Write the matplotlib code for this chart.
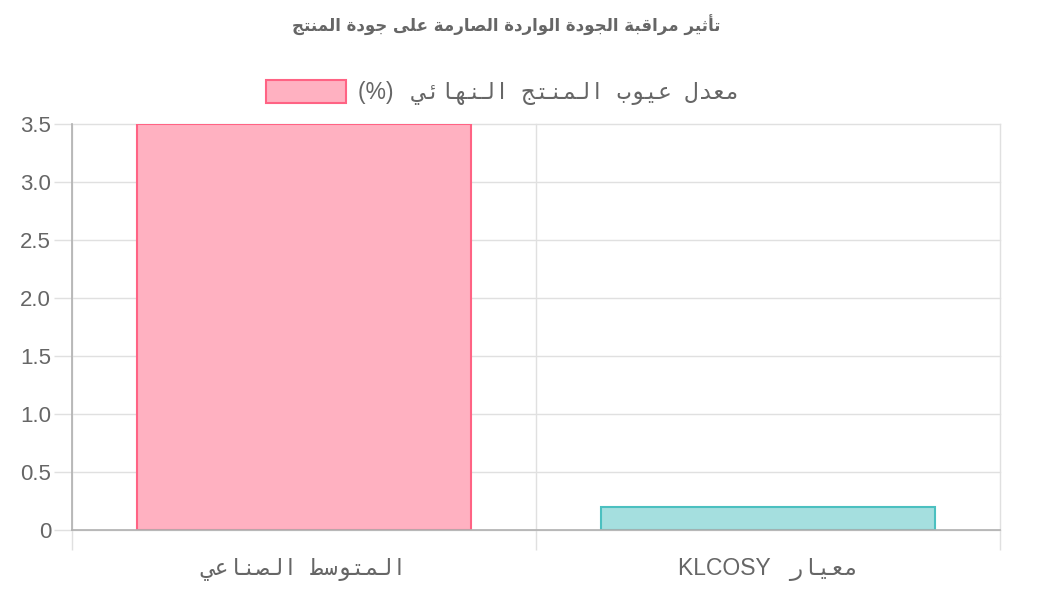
import matplotlib
matplotlib.use("Agg")
import matplotlib.pyplot as plt
from matplotlib.patches import Rectangle

# chart data
title_ar = "تأثير مراقبة الجودة الواردة الصارمة على جودة المنتج"
series_label = "معدل عيوب المنتج النهائي"
categories = ["المتوسط الصناعي", "معيار"]
category_suffix = ["", "KLCOSY"]
defect_rate = [3.5, 0.2]
fill_colors = ["#ffb1c1", "#a5dfdf"]
edge_colors = ["#ff6384", "#4bc0c0"]
y_ticks = [0, 0.5, 1.0, 1.5, 2.0, 2.5, 3.0, 3.5]
y_tick_labels = ["0", "0.5", "1.0", "1.5", "2.0", "2.5", "3.0", "3.5"]

# arabic presentation forms: iso, fin, ini, med (None = right-joining only)
FORMS = {
    "ا": (0xFE8D, 0xFE8E, None, None),
    "أ": (0xFE83, 0xFE84, None, None),
    "ب": (0xFE8F, 0xFE90, 0xFE91, 0xFE92),
    "ة": (0xFE93, 0xFE94, None, None),
    "ت": (0xFE95, 0xFE96, 0xFE97, 0xFE98),
    "ث": (0xFE99, 0xFE9A, 0xFE9B, 0xFE9C),
    "ج": (0xFE9D, 0xFE9E, 0xFE9F, 0xFEA0),
    "د": (0xFEA9, 0xFEAA, None, None),
    "ر": (0xFEAD, 0xFEAE, None, None),
    "س": (0xFEB1, 0xFEB2, 0xFEB3, 0xFEB4),
    "ص": (0xFEB9, 0xFEBA, 0xFEBB, 0xFEBC),
    "ط": (0xFEC1, 0xFEC2, 0xFEC3, 0xFEC4),
    "ع": (0xFEC9, 0xFECA, 0xFECB, 0xFECC),
    "ق": (0xFED5, 0xFED6, 0xFED7, 0xFED8),
    "ل": (0xFEDD, 0xFEDE, 0xFEDF, 0xFEE0),
    "م": (0xFEE1, 0xFEE2, 0xFEE3, 0xFEE4),
    "ن": (0xFEE5, 0xFEE6, 0xFEE7, 0xFEE8),
    "ه": (0xFEE9, 0xFEEA, 0xFEEB, 0xFEEC),
    "و": (0xFEED, 0xFEEE, None, None),
    "ى": (0xFEEF, 0xFEF0, None, None),
    "ي": (0xFEF1, 0xFEF2, 0xFEF3, 0xFEF4),
    "ئ": (0xFE89, 0xFE8A, 0xFE8B, 0xFE8C),
}


def shape(text, gap=" "):
    # join letters and put them in visual (left-to-right) order
    out = []
    for i, c in enumerate(text):
        if c not in FORMS:
            out.append(gap if c == " " else c)
            continue
        prev = text[i - 1] if i > 0 else None
        nxt = text[i + 1] if i + 1 < len(text) else None
        jp = prev in FORMS and FORMS[prev][2] is not None
        jn = nxt in FORMS and FORMS[c][2] is not None
        iso, fin, ini, med = FORMS[c]
        if jp and jn:
            code = med
        elif jp:
            code = fin
        elif jn:
            code = ini
        else:
            code = iso
        out.append(chr(code))
    return "".join(out)[::-1]


grey = "#666666"
grid_c = "#e0e0e0"
mixed = ["Liberation Sans", "DejaVu Sans Mono", "DejaVu Sans"]

fig = plt.figure(figsize=(10.49, 6.01), dpi=100)
ax = fig.add_axes([72 / 1049, 1 - 530 / 601, 928 / 1049, 406 / 601])

x = list(range(len(categories)))
ax.bar(x, defect_rate, width=0.72, color=fill_colors, edgecolor=edge_colors,
       linewidth=1.5, zorder=3)

ax.set_xlim(-0.5, len(categories) - 0.5)
ax.set_ylim(0, 3.5)
ax.set_yticks(y_ticks)
ax.set_yticklabels(y_tick_labels, family="Liberation Sans", fontsize=16, color=grey)

xlabels = []
for cat, suf in zip(categories, category_suffix):
    lab = shape(cat, "  ")
    if suf:
        lab = suf + "   " + lab
    xlabels.append(lab)
ax.set_xticks(x)
ax.set_xticklabels(xlabels, fontsize=16.5, color=grey, family=mixed)
ax.set_xticks([i - 0.5 for i in range(len(categories) + 1)], minor=True)

ax.tick_params(axis="x", which="major", length=0, pad=20)
ax.tick_params(axis="x", which="minor", length=14.4, color=grid_c, width=1)
ax.tick_params(axis="y", length=13, color=grid_c, width=1, pad=2)
ax.grid(axis="y", color=grid_c, linewidth=1, zorder=0)
ax.grid(axis="x", which="minor", color=grid_c, linewidth=1, zorder=0)
for t in ax.xaxis.get_minor_ticks() + ax.yaxis.get_major_ticks():
    t.gridline.set_clip_on(False)

for side in ["top", "right"]:
    ax.spines[side].set_visible(False)
for side in ["left", "bottom"]:
    ax.spines[side].set_color("#b0b0b0")
    ax.spines[side].set_linewidth(1.2)
    ax.spines[side].set_zorder(4)

fig.text(506 / 1049, 1 - 25 / 601, shape(title_ar), ha="center", va="center",
         fontsize=12, fontweight="bold", color=grey, family=["DejaVu Sans"])

# legend
fig.patches.append(Rectangle((266 / 1049, 1 - 103 / 601), 80 / 1049, 23 / 601,
                             transform=fig.transFigure, facecolor=fill_colors[0],
                             edgecolor=edge_colors[0], linewidth=1.5))
fig.text(358 / 1049, 1 - 93 / 601, "(%)   " + shape(series_label, "  "), ha="left",
         va="center", fontsize=16.5, color=grey, family=mixed)

fig.savefig("out.png", dpi=100)
